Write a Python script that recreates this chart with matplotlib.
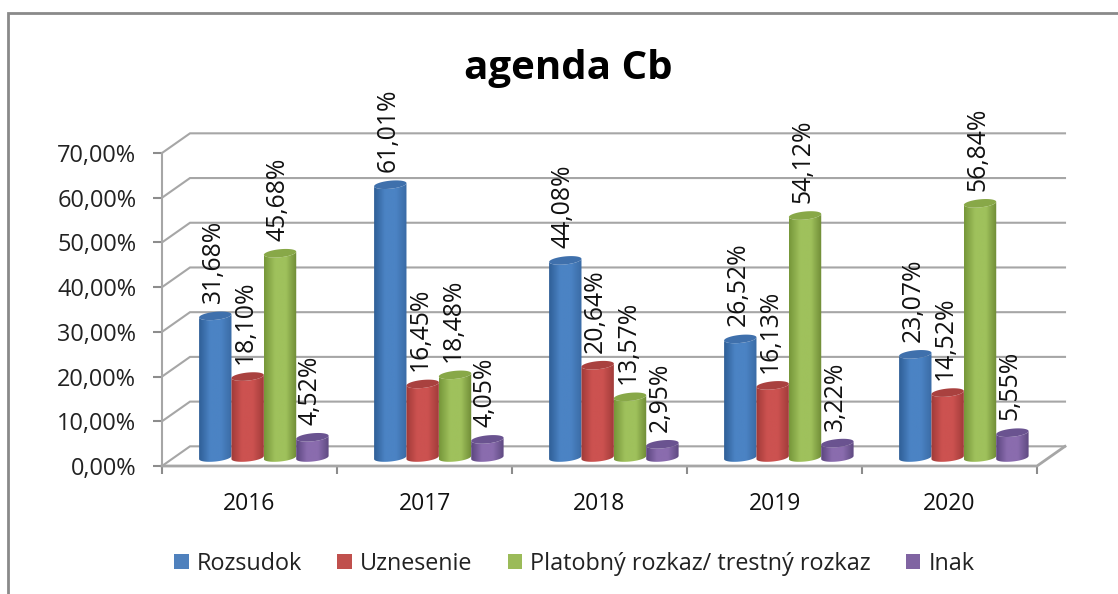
import numpy as np
import matplotlib
matplotlib.use('Agg')
import matplotlib.pyplot as plt
from matplotlib.colors import LinearSegmentedColormap
from matplotlib.lines import Line2D
from matplotlib.patches import Patch

############ CHANGE HERE ############
YEARS = ['2016', '2017', '2018', '2019', '2020']
SERIES = ['Rozsudok', 'Uznesenie', 'Platobný rozkaz/ trestný rozkaz', 'Inak']
ROZSUDOK = [31.68, 61.01, 44.08, 26.52, 23.07]
UZNESENIE = [18.10, 16.45, 20.64, 16.13, 14.52]
PLATOBNY = [45.68, 18.48, 13.57, 54.12, 56.84]
INAK = [4.52, 4.05, 2.95, 3.22, 5.55]
YTICKS = [0, 10, 20, 30, 40, 50, 60, 70]

W, H = 1118, 594
AX_LEFT, AX_RIGHT = 162, 1037   # front plane in pixels
AX_TOP, AX_BOTTOM = 153, 466
DX, DY = 0.16, 4.4              # depth of the box, data units
BAR_W = 0.185
BAR_START = 0.212
BASE = 1.9                      # bars stand a bit behind the front edge
GRID = '#a6a6a6'
# left edge, middle, right edge, top ellipse
COLORS = [
    ('#2f5f97', '#4b83c4', '#3a6ba5', '#3f70ac'),
    ('#a03a38', '#cc5250', '#a23c3a', '#a9413f'),
    ('#76973a', '#9fc15c', '#6f8c36', '#88a848'),
    ('#5c4680', '#8a6cae', '#5f4a82', '#6a5390'),
]
LEGEND_COLORS = ['#4f81bd', '#c0504d', '#9bbb59', '#8064a2']
#####################################

plt.rcParams['font.family'] = 'Open Sans'


def cylinder_outline(cx, bottom, top, half_w, ry=0.9, tilt=0.35):
    # front arc at the bottom, back to the top with the lower side of the lid
    t = np.linspace(np.pi, 2 * np.pi, 30)
    x_bot = cx + half_w * np.cos(t)
    y_bot = bottom + ry * np.sin(t) + tilt * np.cos(t)
    x_top = cx + half_w * np.cos(t[::-1])
    y_top = top + ry * np.sin(t[::-1]) + tilt * np.cos(t[::-1])
    return np.r_[x_bot, x_top], np.r_[y_bot, y_top]


def lid_outline(cx, top, half_w, ry=0.9, tilt=0.35):
    t = np.linspace(0, 2 * np.pi, 60)
    return cx + half_w * np.cos(t), top + ry * np.sin(t) + tilt * np.cos(t)


def draw_bar(ax, cx, value, colors):
    top = BASE + value
    half_w = BAR_W / 2
    xs, ys = cylinder_outline(cx, BASE, top, half_w)
    cmap = LinearSegmentedColormap.from_list('cyl', [colors[0], colors[1], colors[1], colors[2]])
    im = ax.imshow(np.linspace(0, 1, 64).reshape(1, -1), cmap=cmap, aspect='auto',
                   extent=(cx - half_w, cx + half_w, BASE - 1.5, top + 1.5), zorder=3)
    poly = ax.fill(xs, ys, facecolor='none', edgecolor='none', zorder=3)[0]
    im.set_clip_path(poly)
    lx, ly = lid_outline(cx, top, half_w)
    ax.fill(lx, ly, facecolor=colors[3], edgecolor='none', zorder=4)


def main():
    fig = plt.figure(figsize=(W / 100, H / 100), dpi=100, facecolor='white')
    ax = fig.add_axes([AX_LEFT / W, 1 - AX_BOTTOM / H, (AX_RIGHT - AX_LEFT) / W, (AX_BOTTOM - AX_TOP) / H])
    ax.patch.set_visible(False)

    n = len(YEARS)

    # box: back wall lines and the left wall diagonals
    for v in YTICKS:
        ax.plot([0, DX, n + DX], [v, v + DY, v + DY], color=GRID, lw=1.5, zorder=1, clip_on=False,
                solid_joinstyle='miter')
    ax.plot([0, n, n + DX], [0, 0, DY], color=GRID, lw=2.0, zorder=2, clip_on=False)

    all_values = [ROZSUDOK, UZNESENIE, PLATOBNY, INAK]
    for i, values in enumerate(all_values):
        for j, v in enumerate(values):
            cx = j + BAR_START + (i + 0.5) * BAR_W
            draw_bar(ax, cx, v, COLORS[i])
            label = f'{v:.2f}%'.replace('.', ',')
            ax.annotate(label, (cx, BASE + v), xytext=(-1.5, 9), textcoords='offset points',
                        rotation=90, ha='center', va='bottom', fontsize=17.8, color='#111111',
                        zorder=5, annotation_clip=False)

    ax.set_xlim(0, n)
    ax.set_ylim(0, 70)

    for side in ['top', 'right', 'bottom']:
        ax.spines[side].set_visible(False)
    ax.spines['left'].set_color(GRID)
    ax.spines['left'].set_linewidth(1.5)

    ax.set_yticks(YTICKS)
    ax.set_yticklabels([f'{v:.2f}%'.replace('.', ',') for v in YTICKS], fontsize=16.9, color='#222222')
    ax.tick_params(axis='y', length=6.5, width=1.5, color='#8c8c8c', pad=12)

    ax.set_xticks(np.arange(n + 1))
    ax.set_xticklabels([])
    ax.tick_params(axis='x', which='major', length=6, width=1.5, color='#8c8c8c')
    ax.set_xticks(np.arange(n) + 0.5, minor=True)
    ax.set_xticklabels(YEARS, minor=True, fontsize=16.5, color='#111111')
    ax.tick_params(axis='x', which='minor', length=0, pad=19)

    fig.text(568 / W, 1 - 68 / H, 'agenda Cb', fontweight='bold', fontsize=29,
             ha='center', va='center', color='black')

    handles = [Patch(facecolor=c, edgecolor='none') for c in LEGEND_COLORS]
    fig.legend(handles, SERIES, loc='center', bbox_to_anchor=(574.5 / W, 1 - 564 / H), ncol=4, frameon=False,
               fontsize=16.8, handlelength=0.62, handleheight=0.62, handletextpad=0.35, columnspacing=1.5,
               labelcolor='#222222')

    # outer frame, cut at the picture edge
    fig.add_artist(Line2D([8 / W, 8 / W, 1], [0, 1 - 13 / H, 1 - 13 / H], color='#8a8a8a', lw=2.0,
                          solid_joinstyle='miter'))

    fig.savefig('out.png', dpi=100)


if __name__ == "__main__":
    main()
